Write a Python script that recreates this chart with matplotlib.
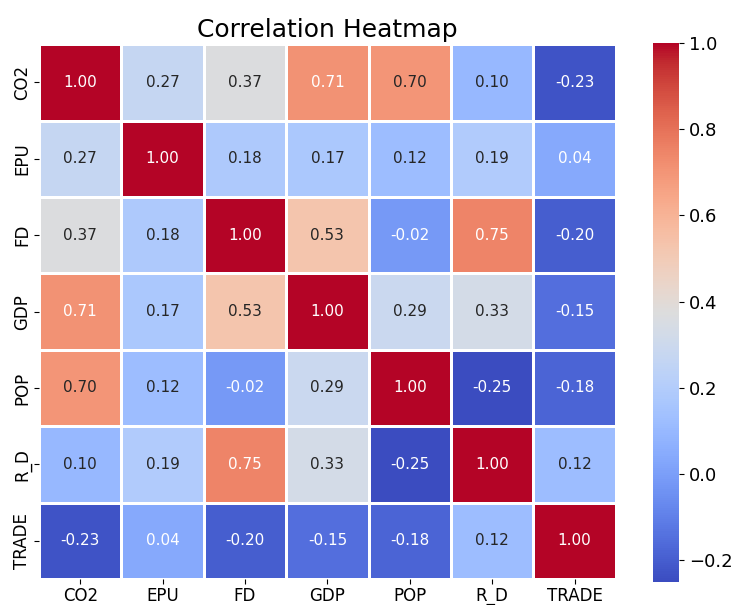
import matplotlib
matplotlib.use("Agg")
import matplotlib.pyplot as plt
import numpy as np
import pandas as pd
import seaborn as sns

LABELS = ["CO2", "EPU", "FD", "GDP", "POP", "R_D", "TRADE"]

ROW_CO2 = [1.00, 0.27, 0.37, 0.71, 0.70, 0.10, -0.23]
ROW_EPU = [0.27, 1.00, 0.18, 0.17, 0.12, 0.19, 0.04]
ROW_FD = [0.37, 0.18, 1.00, 0.53, -0.02, 0.75, -0.20]
ROW_GDP = [0.71, 0.17, 0.53, 1.00, 0.29, 0.33, -0.15]
ROW_POP = [0.70, 0.12, -0.02, 0.29, 1.00, -0.25, -0.18]
ROW_RD = [0.10, 0.19, 0.75, 0.33, -0.25, 1.00, 0.12]
ROW_TRADE = [-0.23, 0.04, -0.20, -0.15, -0.18, 0.12, 1.00]

corr = pd.DataFrame(
    [ROW_CO2, ROW_EPU, ROW_FD, ROW_GDP, ROW_POP, ROW_RD, ROW_TRADE],
    index=LABELS, columns=LABELS,
)

fig = plt.figure(figsize=(7.32, 6.05), dpi=100)
ax = fig.add_axes([0.0533, 0.043, 0.788, 0.884])
cax = fig.add_axes([0.892, 0.038, 0.0355, 0.891])

sns.heatmap(
    corr, ax=ax, cbar_ax=cax, cmap="coolwarm", annot=True, fmt=".2f",
    linewidths=0.8, linecolor="white", annot_kws={"fontsize": 11},
)
ax.set_title("Correlation Heatmap", fontsize=18, pad=5)
ax.tick_params(axis="both", labelsize=12, pad=2)
plt.setp(ax.get_yticklabels(), rotation=90, va="center")
plt.setp(ax.get_xticklabels(), rotation=0)
cax.tick_params(labelsize=13)
cax.set_yticks([-0.2, 0.0, 0.2, 0.4, 0.6, 0.8, 1.0])

fig.savefig("out.png", dpi=100)
